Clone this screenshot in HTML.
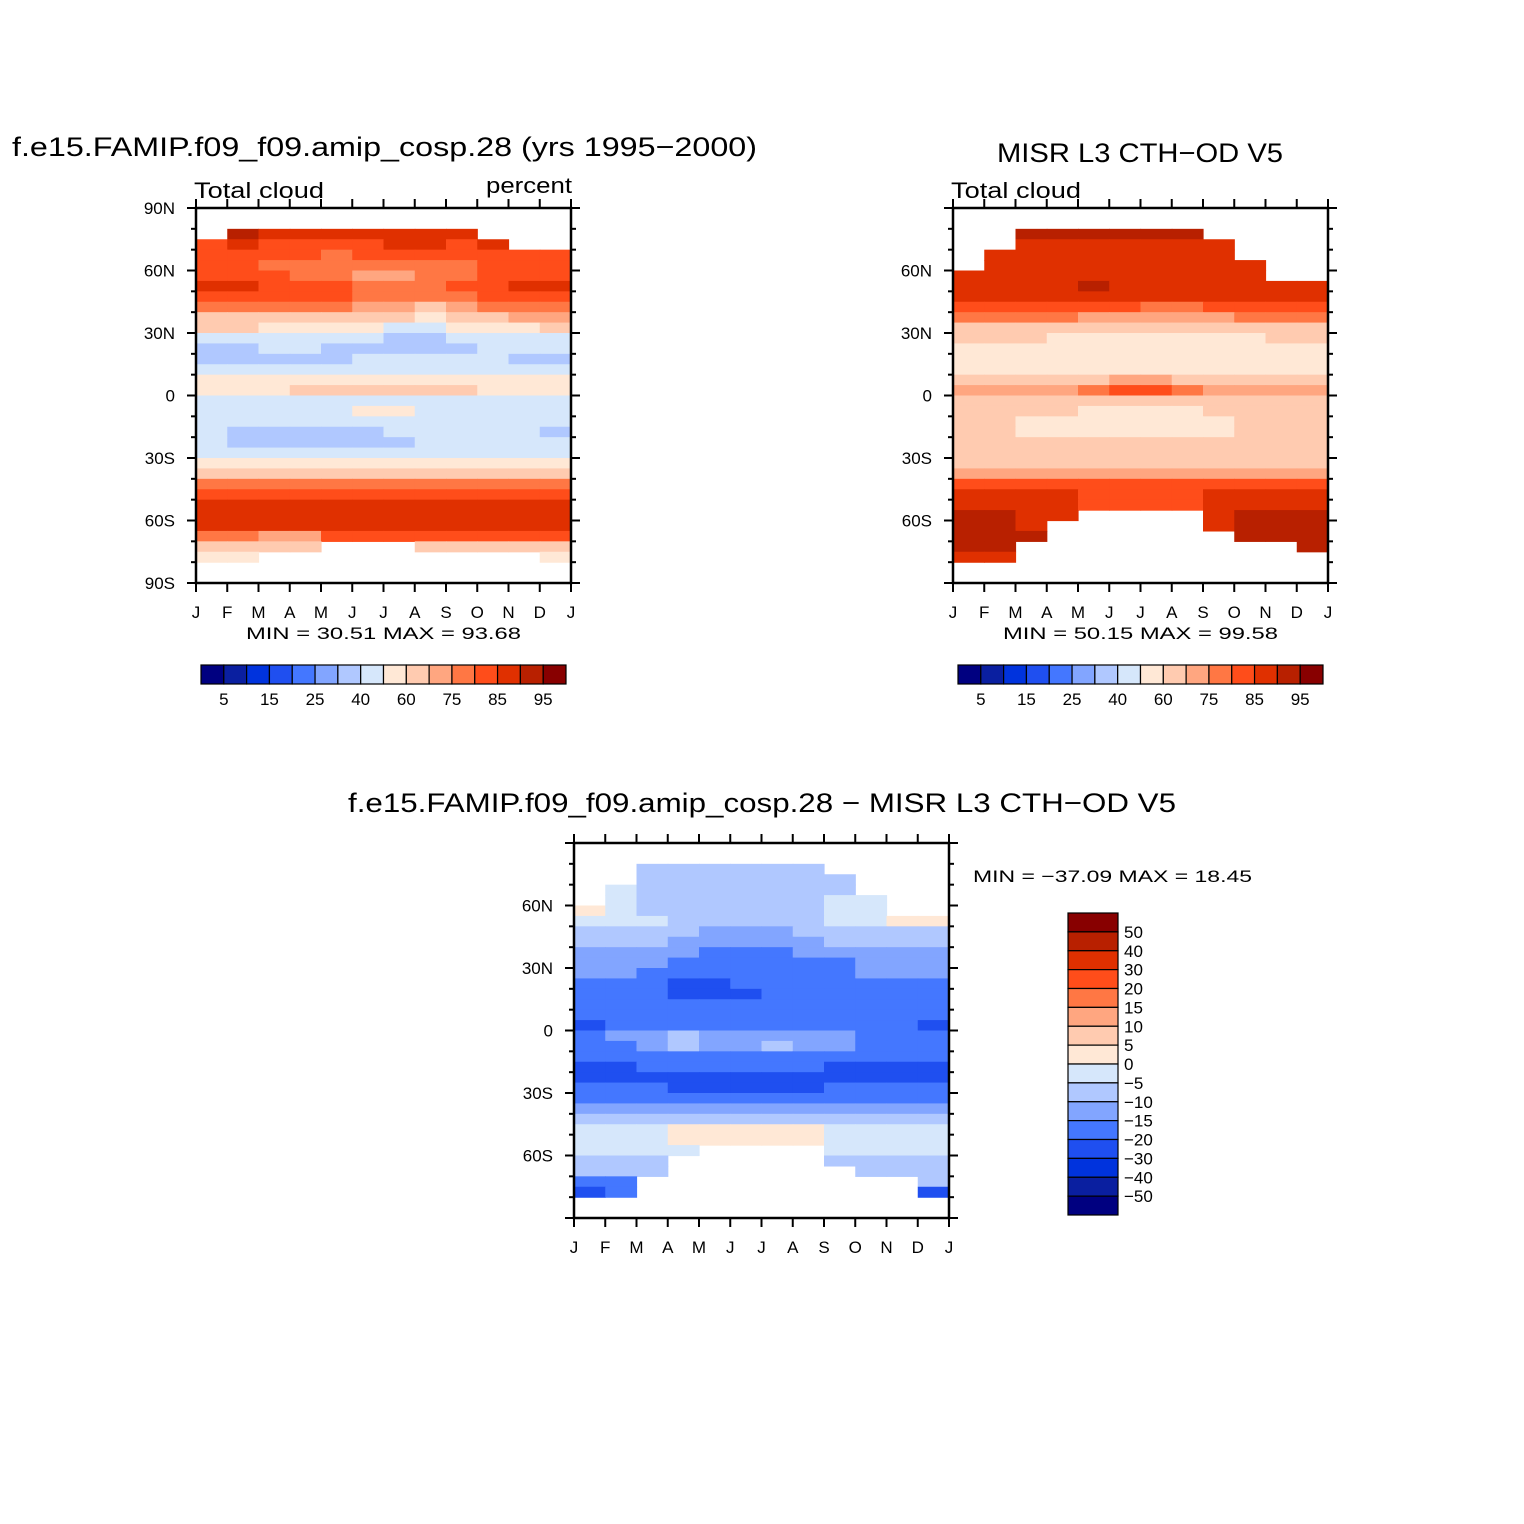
<!DOCTYPE html>
<html><head><meta charset="utf-8">
<style>
html,body{margin:0;padding:0;background:#fff;}
svg{display:block;font-family:"Liberation Sans",sans-serif;}
</style></head>
<body>
<svg id="fig" width="1524" height="1524" viewBox="0 0 1524 1524"></svg>
<script>
const months = ["J","F","M","A","M","J","J","A","S","O","N","D","J"];
const absLevels = [5,10,15,20,25,30,40,50,60,70,75,80,85,90,95];
const absLabels = ["5","15","25","40","60","75","85","95"];
const diffLevels = [-50,-40,-30,-20,-15,-10,-5,0,5,10,15,20,30,40,50];
const diffLabels = ["−50","−40","−30","−20","−15","−10","−5","0","5","10","15","20","30","40","50"];
const palette = ["#000080","#0a1fa0","#0033dd","#1f4ff0","#4477ff","#82a5ff","#b0c8ff","#d6e7fb","#ffe8d6","#ffcbb0","#ffa680","#ff7744","#ff4d1a","#e03000","#b82000","#880000"];
const n = null;
// rows: 5-degree latitude bands from 90N (90..85) down to 90S; columns Jan..Dec
const modelCloud = [
[n,n,n,n,n,n,n,n,n,n,n,n],
[n,n,n,n,n,n,n,n,n,n,n,n],
[n,90,88,88,85,85,88,88,85,n,n,n],
[82,85,83,83,83,83,85,85,83,85,n,n],
[83,83,80,80,78,80,83,83,82,82,82,82],
[80,80,78,75,75,75,78,78,78,80,82,82],
[82,82,80,78,75,72,72,75,78,80,82,83],
[86,85,83,82,80,78,75,78,80,83,85,86],
[82,82,82,80,80,78,75,75,78,80,82,83],
[75,75,75,75,75,72,70,68,72,75,78,78],
[68,68,68,68,68,65,60,58,62,68,70,70],
[60,60,58,58,55,52,48,45,50,55,58,60],
[45,45,45,45,45,42,38,36,40,45,48,48],
[38,38,40,40,38,36,35,36,38,42,42,42],
[36,36,36,36,38,40,42,42,40,40,38,36],
[42,42,44,46,48,48,48,48,46,45,44,42],
[52,52,52,54,56,56,56,56,54,52,52,52],
[56,56,58,62,62,62,62,62,60,58,56,55],
[46,46,46,48,48,46,46,46,46,46,46,46],
[44,44,44,44,44,52,52,44,44,44,44,48],
[42,42,42,42,42,42,42,42,42,42,42,42],
[42,38,38,38,38,38,40,42,42,42,42,38],
[42,38,38,38,38,38,38,42,42,42,42,42],
[45,45,44,44,44,44,44,44,45,45,45,45],
[55,55,55,55,55,55,52,52,55,58,58,58],
[65,65,65,65,65,65,65,65,65,68,68,68],
[76,76,76,76,76,76,76,76,76,76,76,76],
[82,82,83,83,83,84,84,84,84,83,82,82],
[88,88,88,88,88,88,88,88,88,88,88,88],
[88,88,88,88,88,88,88,88,88,88,88,88],
[88,88,88,88,88,88,88,88,88,88,88,88],
[78,76,74,72,80,80,80,80,80,82,82,80],
[65,60,60,60,n,n,n,60,60,60,60,60],
[55,55,n,n,n,n,n,n,n,n,n,55],
[n,n,n,n,n,n,n,n,n,n,n,n],
[n,n,n,n,n,n,n,n,n,n,n,n]];
const misrCloud = [
[n,n,n,n,n,n,n,n,n,n,n,n],
[n,n,n,n,n,n,n,n,n,n,n,n],
[n,n,92,90,90,90,92,92,n,n,n,n],
[n,n,88,88,88,88,88,88,88,n,n,n],
[n,88,88,88,88,88,88,88,85,n,n,n],
[n,85,85,85,85,85,85,85,85,85,n,n],
[85,85,86,86,86,86,86,86,85,85,n,n],
[88,88,86,88,90,88,88,86,86,86,85,85],
[86,86,86,86,86,86,86,86,86,86,86,86],
[82,82,82,82,80,80,78,78,80,80,82,82],
[75,75,75,75,74,72,70,72,74,75,76,76],
[68,68,68,68,65,62,60,60,62,65,68,68],
[62,62,60,58,56,55,55,55,56,58,60,62],
[58,58,56,55,55,55,55,55,55,56,58,58],
[55,55,55,55,55,55,55,55,55,55,55,55],
[57,57,57,58,58,58,58,58,58,58,57,57],
[62,62,62,64,66,70,70,68,66,64,62,62],
[70,70,72,74,78,82,82,78,74,72,72,70],
[65,65,66,66,66,66,66,66,66,66,65,65],
[65,62,60,60,58,58,58,58,62,65,65,65],
[65,62,58,56,56,56,56,56,58,65,65,65],
[65,62,56,56,56,56,56,56,58,65,65,65],
[65,65,62,62,62,62,62,62,62,65,65,65],
[66,66,66,66,66,66,66,66,66,66,66,66],
[68,68,68,68,68,68,68,68,68,68,68,68],
[74,74,73,73,72,72,72,72,72,72,74,74],
[82,82,82,82,82,82,82,82,82,82,82,82],
[86,86,86,86,84,83,83,84,86,86,86,86],
[88,88,88,86,84,84,84,84,86,88,88,88],
[92,92,88,88,n,n,n,n,88,90,92,92],
[92,92,88,n,n,n,n,n,88,92,92,92],
[92,92,90,n,n,n,n,n,n,92,92,92],
[92,92,n,n,n,n,n,n,n,n,n,92],
[88,88,n,n,n,n,n,n,n,n,n,n],
[n,n,n,n,n,n,n,n,n,n,n,n],
[n,n,n,n,n,n,n,n,n,n,n,n]];
const diffCloud = [
[n,n,n,n,n,n,n,n,n,n,n,n],
[n,n,n,n,n,n,n,n,n,n,n,n],
[n,n,-8,-8,-8,-8,-8,-8,n,n,n,n],
[n,n,-7,-7,-8,-8,-8,-7,-7,n,n,n],
[n,-4,-7,-7,-8,-8,-7,-7,-7,n,n,n],
[n,-4,-6,-8,-8,-8,-7,-6,-4,-4,n,n],
[2,-3,-6,-8,-10,-10,-8,-6,-4,-4,n,n],
[-3,-4,-4,-8,-10,-10,-10,-8,-4,-3,2,2],
[-6,-6,-8,-10,-12,-12,-12,-10,-8,-7,-6,-6],
[-8,-8,-10,-12,-12,-12,-12,-12,-10,-8,-8,-8],
[-12,-12,-12,-12,-16,-16,-16,-13,-12,-12,-12,-12],
[-13,-13,-13,-16,-16,-17,-17,-17,-16,-13,-13,-13],
[-13,-13,-17,-17,-18,-17,-17,-17,-16,-14,-13,-13],
[-16,-17,-17,-22,-22,-18,-18,-18,-17,-16,-16,-16],
[-17,-17,-17,-22,-22,-22,-17,-17,-17,-17,-17,-17],
[-17,-17,-17,-17,-18,-17,-17,-17,-17,-17,-17,-17],
[-16,-17,-17,-17,-17,-17,-17,-17,-17,-17,-17,-17],
[-22,-20,-18,-17,-16,-16,-16,-17,-17,-18,-20,-22],
[-17,-14,-12,-8,-12,-12,-12,-12,-14,-16,-16,-17],
[-17,-16,-12,-8,-12,-12,-8,-12,-14,-16,-17,-17],
[-18,-17,-17,-16,-16,-16,-16,-17,-17,-17,-18,-18],
[-22,-22,-18,-17,-17,-17,-17,-18,-22,-22,-22,-22],
[-22,-22,-22,-22,-22,-22,-22,-22,-22,-22,-22,-22],
[-18,-18,-18,-22,-22,-22,-22,-22,-18,-18,-18,-18],
[-17,-17,-17,-17,-17,-17,-17,-17,-17,-17,-17,-17],
[-12,-12,-12,-12,-12,-12,-12,-12,-12,-12,-12,-12],
[-8,-8,-8,-8,-8,-8,-8,-8,-8,-8,-8,-8],
[-3,-3,-3,2,2,2,2,2,-3,-3,-3,-3],
[-3,-3,-3,2,2,2,2,2,-3,-3,-3,-3],
[-4,-4,-4,-4,n,n,n,n,-4,-4,-4,-4],
[-6,-6,-8,n,n,n,n,n,-8,-6,-6,-6],
[-10,-10,-10,n,n,n,n,n,n,-10,-10,-8],
[-20,-18,n,n,n,n,n,n,n,n,n,-10],
[-25,-20,n,n,n,n,n,n,n,n,n,-25],
[n,n,n,n,n,n,n,n,n,n,n,n],
[n,n,n,n,n,n,n,n,n,n,n,n]];

const NS = "http://www.w3.org/2000/svg";
const svg = document.getElementById("fig");
function mk(tag, attrs, parent){
  const e = document.createElementNS(NS, tag);
  for (const k in attrs) e.setAttribute(k, attrs[k]);
  (parent||svg).appendChild(e); return e;
}
function txt(s, x, y, size, anchor, parent, len){
  const a = {x:x, y:y, "font-size":size, "text-anchor":anchor||"start", fill:"#000"};
  if (len) { a.textLength = len; a.lengthAdjust = "spacingAndGlyphs"; }
  const t = mk("text", a, parent);
  t.textContent = s; return t;
}
function colorIndex(v, levels){ let i=0; while(i<levels.length && v>=levels[i]) i++; return i; }

function panel(cfg){
  const g = mk("g", {});
  
  
  const L=cfg.x, T=cfg.y, W=375, H=375;
  const xs = m => L + m*W/12;
  const ys = lat => T + (90-lat)/180*H;
  const cells = mk("g", {}, g);
  
  
  cfg.data.forEach((row, r) => {
    row.forEach((v, c) => {
      if (v === null) return;
      const x0 = xs(c), x1 = xs(c+1), y0 = ys(90-5*r), y1 = ys(85-5*r);
      const rect = mk("rect", {x:x0, y:y0, width:x1-x0+0.6, height:y1-y0+0.6, fill:palette[colorIndex(v, cfg.levels)]}, cells);
      
      
    });
  });
  const frame = mk("rect", {x:L, y:T, width:W, height:H, fill:"none", stroke:"#000", "stroke-width":2.5}, g);
  
  
  for (let lat=-90; lat<=90; lat+=10){
    const y = ys(lat); const major = lat%30===0; const len = major?9:5;
    mk("line", {x1:L-len, y1:y, x2:L, y2:y, stroke:"#000", "stroke-width":2}, g);
    mk("line", {x1:L+W, y1:y, x2:L+W+len, y2:y, stroke:"#000", "stroke-width":2}, g);
  }
  const latLabs = cfg.full ? [[90,"90N"],[60,"60N"],[30,"30N"],[0,"0"],[-30,"30S"],[-60,"60S"],[-90,"90S"]]
                           : [[60,"60N"],[30,"30N"],[0,"0"],[-30,"30S"],[-60,"60S"]];
  latLabs.forEach(([lat,s]) => {
    const t = txt(s, L-21, ys(lat)+6, 17, "end", g);
    
    
  });
  for (let m=0; m<=12; m++){
    const x = xs(m);
    mk("line", {x1:x, y1:T-9, x2:x, y2:T, stroke:"#000", "stroke-width":2}, g);
    mk("line", {x1:x, y1:T+H, x2:x, y2:T+H+9, stroke:"#000", "stroke-width":2}, g);
    const t = txt(months[m], x, T+H+35, 17, "middle", g);
    
    
  }
  return g;
}

function hbar(x, y, labels){
  const g = mk("g", {});
  
  
  const w = 365/16;
  palette.forEach((c,i)=>{
    const r = mk("rect", {x:x+i*w, y:y, width:w, height:19, fill:c, stroke:"#000", "stroke-width":1.2}, g);
    
    
  });
  labels.forEach((s,k)=>{
    const t = txt(s, x+(1+2*k)*w, y+40, 17, "middle", g);
    
    
  });
}

panel({name:"model-panel", x:196, y:208, data:modelCloud, levels:absLevels, full:true});
panel({name:"misr-panel", x:953, y:208, data:misrCloud, levels:absLevels, full:false});
panel({name:"difference-panel", x:574, y:843, data:diffCloud, levels:diffLevels, full:false});

let t;
t = txt("f.e15.FAMIP.f09_f09.amip_cosp.28 (yrs 1995−2000)", 12, 156, 27, "start", null, 745);
 
t = txt("Total cloud", 194, 198, 22, "start", null, 130);
 
t = txt("percent", 486, 193, 22, "start", null, 86);
 
t = txt("MIN =    30.51  MAX =    93.68", 246, 639, 17, "start", null, 275);
 
hbar(201, 665, absLabels);

t = txt("MISR L3 CTH−OD V5", 997, 162, 27, "start", null, 286);
 
t = txt("Total cloud", 951, 198, 22, "start", null, 130);
 
t = txt("MIN =    50.15  MAX =    99.58", 1003, 639, 17, "start", null, 275);
 
hbar(958, 665, absLabels);

t = txt("f.e15.FAMIP.f09_f09.amip_cosp.28 − MISR L3 CTH−OD V5", 348, 812, 27, "start", null, 828);
 
t = txt("MIN = −37.09  MAX =    18.45", 973, 882, 17, "start", null, 279);
 

const vb = mk("g", {});


const bh = 302/16;
for (let i=0;i<16;i++){
  const r = mk("rect", {x:1068, y:913+i*bh, width:50, height:bh, fill:palette[15-i], stroke:"#000", "stroke-width":1.2}, vb);
  
  
}
for (let k=0;k<15;k++){
  const s = diffLabels[14-k];
  const t2 = txt(s, 1124, 913+(k+1)*bh+6, 17, "start", vb);
  
  
}
</script>
</body></html>
